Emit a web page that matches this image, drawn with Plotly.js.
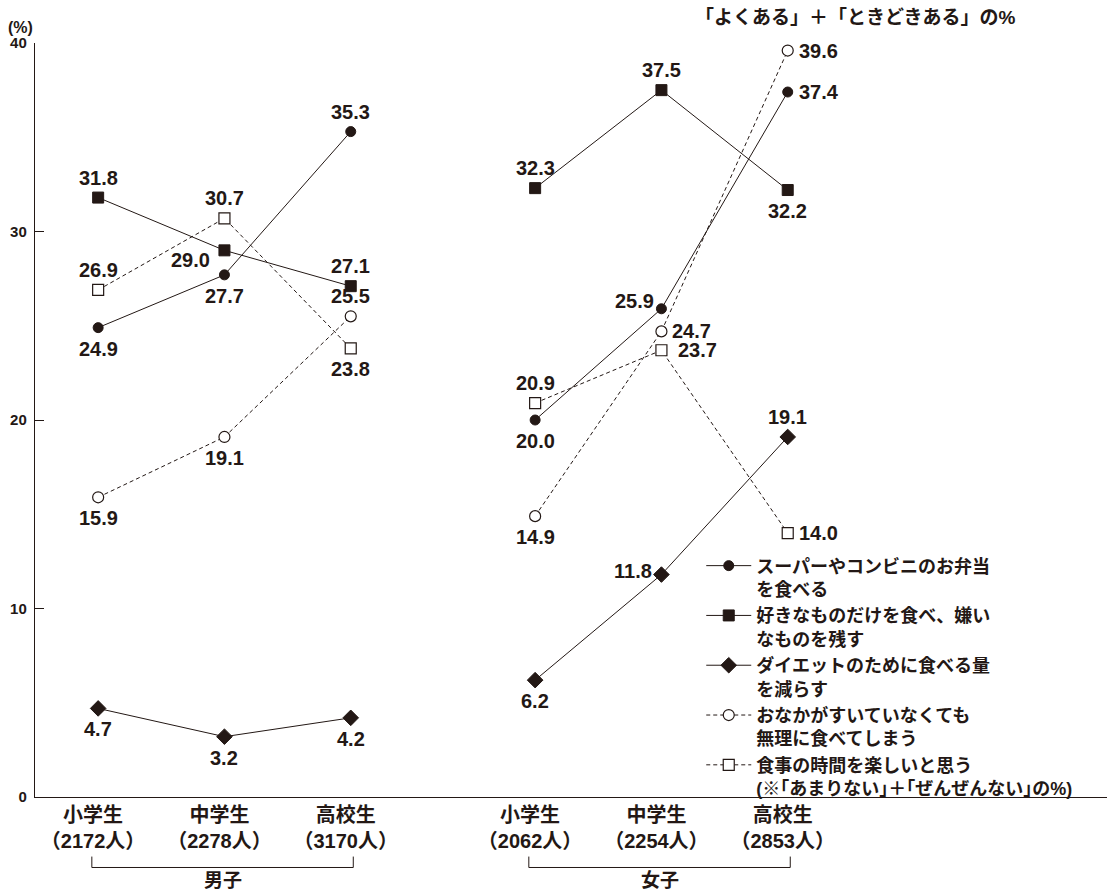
<!DOCTYPE html>
<html>
<head>
<meta charset="utf-8">
<script src="https://cdn.plot.ly/plotly-3.0.1.min.js"></script>
<style>
  html, body { margin: 0; padding: 0; background: #fff; }
  #chart { width: 1116px; height: 893px; }
</style>
</head>
<body>
<div id="chart"></div>
<script>
// School stages and number of respondents per group
const stages = ['小学生', '中学生', '高校生'];
const groups = ['男子', '女子'];
const boysCount = [2172, 2278, 3170];
const girlsCount = [2062, 2254, 2853];

// Series names (legend text)
const seriesNames = [
  'スーパーやコンビニのお弁当<br>を食べる',
  '好きなものだけを食べ、嫌い<br>なものを残す',
  'ダイエットのために食べる量<br>を減らす',
  'おなかがすいていなくても<br>無理に食べてしまう',
  '食事の時間を楽しいと思う<br>(※｢あまりない｣＋｢ぜんぜんない｣の%)'
];

// Percentages: boys (小学生, 中学生, 高校生) then girls
const bentoBoys = [24.9, 27.7, 35.3];
const bentoGirls = [20.0, 25.9, 37.4];
const pickyBoys = [31.8, 29.0, 27.1];
const pickyGirls = [32.3, 37.5, 32.2];
const dietBoys = [4.7, 3.2, 4.2];
const dietGirls = [6.2, 11.8, 19.1];
const overeatBoys = [15.9, 19.1, 25.5];
const overeatGirls = [14.9, 24.7, 39.6];
const enjoyBoys = [26.9, 30.7, 23.8];
const enjoyGirls = [20.9, 23.7, 14.0];

// ---- drawing ----
const INK = '#231815';
const FONT = 'Liberation Sans, Arial, "Noto Sans CJK JP", sans-serif';
const GROUP_STRIDE = 3.46;                 // horizontal offset of the girls' block
const xPos = (g, i) => g * GROUP_STRIDE + i;

const seriesData = [
  [bentoBoys, bentoGirls],
  [pickyBoys, pickyGirls],
  [dietBoys, dietGirls],
  [overeatBoys, overeatGirls],
  [enjoyBoys, enjoyGirls]
];

const seriesStyle = [
  { dash: 'solid', marker: { symbol: 'circle', size: 10, color: INK, line: { color: INK, width: 1 } } },
  { dash: 'solid', marker: { symbol: 'square', size: 11, color: INK, line: { color: INK, width: 1 } } },
  { dash: 'solid', marker: { symbol: 'diamond', size: 12, color: INK, line: { color: INK, width: 1 } } },
  { dash: '4px,3px', marker: { symbol: 'circle', size: 11, color: '#fff', line: { color: INK, width: 1.2 } } },
  { dash: '4px,3px', marker: { symbol: 'square', size: 11, color: '#fff', line: { color: INK, width: 1.2 } } }
];

// Where each value label sits around its marker
const P = {
  above:  { xa: 'center', ya: 'bottom', dx: 0,   dy: 7 },
  below:  { xa: 'center', ya: 'top',    dx: 0,   dy: -8 },
  right:  { xa: 'left',   ya: 'middle', dx: 9,   dy: 0 },
  right2: { xa: 'left',   ya: 'middle', dx: 15,  dy: 0 },
  upleft: { xa: 'right',  ya: 'middle', dx: -5,  dy: 8 },
  upleft2:{ xa: 'right',  ya: 'middle', dx: -7,  dy: 4 },
  lowleft:{ xa: 'right',  ya: 'middle', dx: -12, dy: -10 }
};
const labelSpots = [
  [['below', 'below', 'above'],  ['below', 'upleft', 'right']],
  [['above', 'lowleft', 'above'],['above', 'above', 'below']],
  [['below', 'below', 'below'],  ['below', 'upleft2', 'above']],
  [['below', 'below', 'above'],  ['below', 'right', 'right']],
  [['above', 'above', 'below'],  ['above', 'right2', 'right']]
];

const traces = seriesData.map((pair, s) => {
  const xs = [], ys = [];
  pair.forEach((vals, g) => {
    vals.forEach((v, i) => { xs.push(xPos(g, i)); ys.push(v); });
    if (g === 0) { xs.push(null); ys.push(null); }
  });
  return {
    type: 'scatter', mode: 'lines+markers',
    x: xs, y: ys, name: seriesNames[s],
    connectgaps: false, cliponaxis: false,
    line: { color: INK, width: 1, dash: seriesStyle[s].dash },
    marker: seriesStyle[s].marker,
    hoverinfo: 'x+y'
  };
});

const annotations = [];
seriesData.forEach((pair, s) => {
  pair.forEach((vals, g) => {
    vals.forEach((v, i) => {
      const p = P[labelSpots[s][g][i]];
      annotations.push({
        x: xPos(g, i), y: v, xref: 'x', yref: 'y',
        text: v.toFixed(1), showarrow: false,
        xanchor: p.xa, yanchor: p.ya, xshift: p.dx, yshift: p.dy,
        font: { family: FONT, size: 20, color: INK, weight: 'bold' }
      });
    });
  });
});

// Brackets and captions for each group
const shapes = [];
groups.forEach((name, g) => {
  const x0 = xPos(g, 0) - 0.05, x1 = xPos(g, stages.length - 1) + 0.02;
  shapes.push({ type: 'path', xref: 'x', yref: 'paper',
    path: `M ${x0},-0.079 L ${x0},-0.0935 L ${x1},-0.0935 L ${x1},-0.079`,
    line: { color: INK, width: 1 } });
  annotations.push({
    x: (x0 + x1) / 2, y: -0.111,
    xref: 'x', yref: 'paper', text: name, showarrow: false,
    xanchor: 'center', yanchor: 'middle',
    font: { family: FONT, size: 19, color: INK, weight: 'bold' }
  });
});

annotations.push({
  x: -0.027, y: 1.006, xref: 'paper', yref: 'paper', text: '(%)',
  showarrow: false, xanchor: 'left', yanchor: 'bottom',
  font: { family: FONT, size: 16, color: INK, weight: 'bold' }
});
annotations.push({
  x: 0.916, y: 1.034, xref: 'paper', yref: 'paper',
  text: '「よくある」＋「ときどきある」の%', showarrow: false,
  xanchor: 'right', yanchor: 'middle',
  font: { family: FONT, size: 19, color: INK, weight: 'bold' }
});

const tickvals = [], ticktext = [];
[boysCount, girlsCount].forEach((counts, g) => {
  stages.forEach((st, i) => {
    tickvals.push(xPos(g, i) - 0.04);
    ticktext.push(`${st}<br>（${counts[i]}人）`);
  });
});

const layout = {
  width: 1116, height: 893,
  paper_bgcolor: '#fff', plot_bgcolor: '#fff',
  margin: { l: 35, r: 9, t: 43, b: 96, autoexpand: false },
  font: { family: FONT, color: INK },
  showlegend: true,
  legend: {
    x: 0.6215, y: 0.331, xanchor: 'left', yanchor: 'top',
    bgcolor: 'rgba(0,0,0,0)', borderwidth: 0,
    font: { family: FONT, size: 18, color: INK, weight: 'bold' },
    valign: 'top', tracegroupgap: 0, itemwidth: 45
  },
  xaxis: {
    range: [-0.5, 7.988], showgrid: false, zeroline: false,
    showline: true, linecolor: INK, linewidth: 1.2,
    tickmode: 'array', tickvals: tickvals, ticktext: ticktext,
    ticks: '', tickfont: { family: FONT, size: 20, color: INK, weight: 'bold' },
    automargin: false, fixedrange: true
  },
  yaxis: {
    range: [0, 40], showgrid: false, zeroline: false,
    showline: true, linecolor: INK, linewidth: 1.2,
    tickmode: 'array', tickvals: [0, 10, 20, 30, 40],
    ticks: 'inside', ticklen: 9, tickcolor: INK, tickwidth: 1,
    tickfont: { family: FONT, size: 15, color: INK, weight: 'bold' },
    ticklabelstandoff: 4,
    automargin: false, fixedrange: true
  },
  annotations: annotations,
  shapes: shapes
};

Plotly.newPlot('chart', traces, layout, { displayModeBar: false, staticPlot: true });
</script>
</body>
</html>
